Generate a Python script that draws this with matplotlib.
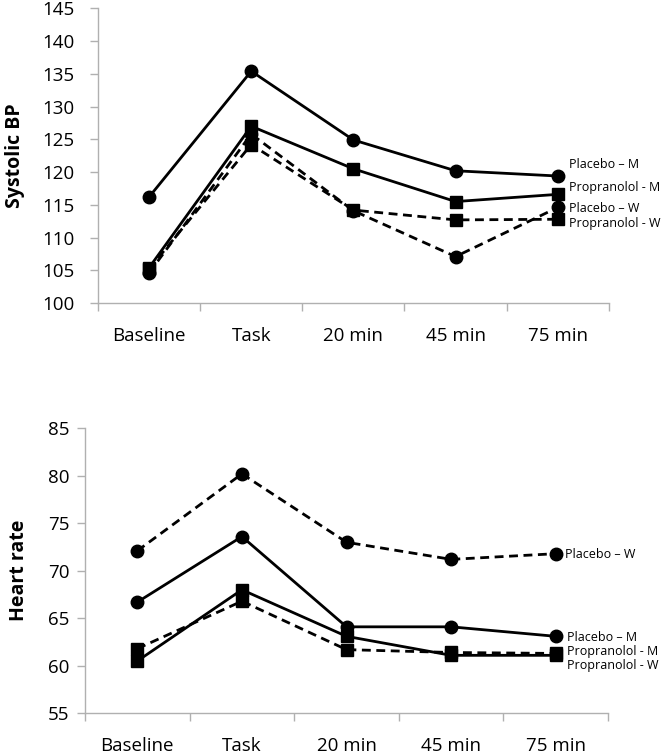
import matplotlib
matplotlib.use("Agg")
import matplotlib.pyplot as plt
from matplotlib.ticker import FixedLocator, NullFormatter

plt.rcParams['font.family'] = ['Open Sans', 'DejaVu Sans']

categories = ["Baseline", "Task", "20 min", "45 min", "75 min"]

# Systolic BP
sbp_placebo_m = [116.2, 135.4, 124.9, 120.2, 119.4]
sbp_propranolol_m = [105.4, 127.0, 120.5, 115.5, 116.6]
sbp_placebo_w = [104.6, 125.8, 114.1, 107.1, 114.6]
sbp_propranolol_w = [105.2, 124.2, 114.2, 112.7, 112.8]

# Heart rate
hr_placebo_w = [72.1, 80.2, 73.0, 71.2, 71.8]
hr_placebo_m = [66.7, 73.6, 64.1, 64.1, 63.1]
hr_propranolol_m = [60.5, 68.0, 63.1, 61.1, 61.1]
hr_propranolol_w = [61.8, 66.8, 61.7, 61.4, 61.3]

sbp_ticks = [100, 105, 110, 115, 120, 125, 130, 135, 140, 145]
hr_ticks = [55, 60, 65, 70, 75, 80, 85]

fig = plt.figure(figsize=(6.69, 7.54), dpi=100)
ax1 = fig.add_axes([0.1465, 0.598, 0.7635, 0.391])
ax2 = fig.add_axes([0.127, 0.054, 0.782, 0.378])

x = list(range(len(categories)))
dash = (0, (3.2, 2.0))
lw = 2.0

def style(ax, yticks, ypad):
    ax.set_xlim(-0.5, len(categories) - 0.5)
    ax.set_ylim(yticks[0], yticks[-1])
    ax.set_yticks(yticks)
    for s in ['top', 'right']:
        ax.spines[s].set_visible(False)
    for s in ['left', 'bottom']:
        ax.spines[s].set_color('#b0b0b0')
        ax.spines[s].set_linewidth(1.0)
    ax.xaxis.set_major_locator(FixedLocator([i - 0.5 for i in range(len(categories) + 1)]))
    ax.xaxis.set_major_formatter(NullFormatter())
    ax.xaxis.set_minor_locator(FixedLocator(x))
    ax.set_xticklabels(categories, minor=True)
    ax.tick_params(axis='x', which='major', length=6, color='#b0b0b0', width=1.0)
    ax.tick_params(axis='x', which='minor', length=0, labelsize=13.5, pad=17)
    ax.tick_params(axis='y', length=6, color='#b0b0b0', width=1.0, labelsize=13.5, pad=ypad)

def series(ax, vals, marker, ls, ms):
    ax.plot(x, vals, color='black', linestyle=ls, linewidth=lw,
            marker=marker, markersize=ms, markerfacecolor='black',
            markeredgecolor='black', clip_on=False)

# Top chart
series(ax1, sbp_placebo_w, 'o', dash, 9)
series(ax1, sbp_propranolol_w, 's', dash, 8.5)
series(ax1, sbp_propranolol_m, 's', '-', 8.5)
series(ax1, sbp_placebo_m, 'o', '-', 9)
style(ax1, sbp_ticks, 11)
ax1.set_ylabel("Systolic BP", fontsize=14, fontweight='bold', labelpad=12)

lx = 4.11
fs = 9
ax1.text(lx, 121.2, "Placebo – M", fontsize=fs, va='center')
ax1.text(lx, 117.7, "Propranolol - M", fontsize=fs, va='center')
ax1.text(lx, 114.4, "Placebo – W", fontsize=fs, va='center')
ax1.text(lx, 112.2, "Propranolol - W", fontsize=fs, va='center')

# Bottom chart
series(ax2, hr_placebo_w, 'o', dash, 9)
series(ax2, hr_propranolol_w, 's', dash, 8.5)
series(ax2, hr_propranolol_m, 's', '-', 8.5)
series(ax2, hr_placebo_m, 'o', '-', 9)
style(ax2, hr_ticks, 5)
ax2.set_ylabel("Heart rate", fontsize=14, fontweight='bold', labelpad=14)

lx2 = 4.11
ax2.text(lx2 - 0.02, 71.75, "Placebo – W", fontsize=fs, va='center')
ax2.text(lx2, 63.0, "Placebo – M", fontsize=fs, va='center')
ax2.text(lx2, 61.5, "Propranolol - M", fontsize=fs, va='center')
ax2.text(lx2, 60.05, "Propranolol - W", fontsize=fs, va='center')

fig.savefig("out.png", dpi=100)
